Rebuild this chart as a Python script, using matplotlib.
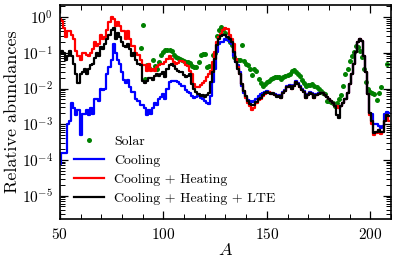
import numpy as np
import matplotlib
matplotlib.use("Agg")
import matplotlib.pyplot as plt
from matplotlib.ticker import MultipleLocator, LogLocator, NullFormatter

plt.rcParams['font.family'] = 'serif'
plt.rcParams['font.serif'] = ['cmr10']
plt.rcParams['mathtext.fontset'] = 'cm'
plt.rcParams['axes.formatter.use_mathtext'] = True
plt.rcParams['axes.unicode_minus'] = False

# mass numbers 50..209
mass = np.arange(50, 210)

# log10 of relative abundances
cool_log = [
    -4.1, -3.8, -3.8, -3.8, -3.0, -2.9, -2.4, -2.55, -2.75, -2.6,
    -3.3, -2.7, -2.7, -2.6, -2.75, -2.55, -2.7, -2.3, -2.3, -2.35,
    -2.0, -2.05, -2.0, -1.6, -1.4, -1.2, -0.75, -1.0, -1.2, -1.3,
    -1.55, -1.75, -1.85, -1.75, -1.95, -2.1, -2.1, -2.3, -2.35, -2.45,
    -2.45, -2.55, -2.75, -2.6, -2.7, -2.55, -2.4, -2.45, -2.3, -2.25,
    -2.15,
    -2.3, -2.02, -1.83, -1.78, -1.78, -1.78, -1.81, -1.88, -1.93, -1.93,
    -2.04, -2.1, -2.12, -2.21, -2.26, -2.23, -2.21, -2.26, -2.29, -2.35,
    -2.4, -2.42, -2.21, -1.83, -1.45, -0.98, -0.75, -0.7, -0.7, -0.62,
    -0.65, -0.7, -0.75, -1.08, -1.27, -1.34, -1.55, -1.93, -2.12, -2.23,
    -2.32, -2.35, -2.38, -2.35, -2.29, -2.21, -2.16, -2.13, -2.1, -2.07,
    -2.1, -2.13, -2.16, -2.16, -2.19,
    -2.18, -2.23, -2.1, -2.04, -1.94, -1.9, -1.97, -1.9, -1.78, -1.85,
    -1.94, -2.01, -2.07, -2.23, -2.16, -2.1, -2.13, -2.23, -2.16, -2.13,
    -2.12, -2.13, -2.19, -2.23, -2.29, -2.35, -2.4, -2.49, -2.5, -2.55,
    -2.49, -2.4, -2.29, -2.12, -1.88, -1.6, -1.31, -0.98, -0.7, -0.62,
    -0.68, -1.08, -1.55, -2.16, -2.68, -2.7, -3.0, -3.0, -3.05, -3.1,
    -3.05, -2.7, -2.65, -2.68,
]

heat_log = [
    -0.05, -0.1, -0.3, -0.55, -0.4, -0.4, -0.5, -0.6, -0.95, -1.1,
    -1.2, -1.0, -1.0, -1.05, -1.1, -1.0, -0.9, -0.7, -0.8, -0.75,
    -0.5, -0.6, -0.55, -0.35, -0.15, 0.0, -0.05, -0.25, -0.15, -0.25,
    -0.4, -0.4, -0.6, -0.4, -0.6, -0.8, -0.8, -1.0, -1.05, -1.2,
    -1.35, -1.35, -1.5, -1.3, -1.5, -1.45, -1.5, -1.4, -1.35, -1.3,
    -1.3,
    -1.27, -1.17, -1.08, -1.17, -1.27, -1.31, -1.28, -1.22, -1.22, -1.27,
    -1.34, -1.38, -1.5, -1.6, -1.88, -1.97, -1.95, -1.91, -1.85, -1.78,
    -1.69, -1.6, -1.5, -1.27, -0.98, -0.7, -0.56, -0.46, -0.37, -0.3,
    -0.32, -0.51, -0.6, -0.75, -1.17, -1.41, -1.6, -1.88, -2.07, -2.26,
    -2.4, -2.49, -2.59, -2.54, -2.4, -2.33, -2.29, -2.21, -2.16, -2.12,
    -2.1, -2.13, -2.16, -2.19, -2.21,
    -2.21, -2.26, -2.13, -2.07, -1.97, -1.93, -2.0, -1.93, -1.81, -1.88,
    -1.97, -2.04, -2.1, -2.26, -2.19, -2.13, -2.16, -2.26, -2.19, -2.16,
    -2.12, -2.13, -2.19, -2.23, -2.29, -2.35, -2.4, -2.49, -2.5, -2.55,
    -2.49, -2.4, -2.29, -2.12, -1.88, -1.6, -1.31, -0.98, -0.7, -0.6,
    -0.66, -1.08, -1.55, -2.16, -2.75, -3.0, -3.3, -3.25, -3.15, -3.28,
    -3.21, -2.92, -2.73, -2.9,
]

lte_log = [
    -1.0, -0.95, -1.0, -1.2, -1.1, -0.95, -1.1, -1.3, -1.6, -1.85,
    -1.6, -1.55, -1.45, -1.6, -1.45, -1.35, -1.3, -1.15, -1.0, -1.1,
    -0.85, -0.9, -0.75, -0.6, -0.5, -0.35, -0.3, -0.6, -0.45, -0.55,
    -0.7, -0.8, -0.85, -0.75, -0.9, -1.1, -1.0, -1.2, -1.3, -1.35,
    -1.8, -1.85, -1.8, -1.7, -1.7, -1.75, -1.65, -1.6, -1.65, -1.6,
    -1.55,
    -1.69, -1.45, -1.34, -1.31, -1.38, -1.44, -1.5, -1.53, -1.55, -1.62,
    -1.69, -1.64, -1.6, -1.88, -2.02, -2.1, -2.16, -2.21, -2.19, -2.23,
    -2.17, -2.13, -1.83, -1.55, -1.17, -0.79, -0.6, -0.53, -0.49, -0.51,
    -0.57, -0.6, -0.7, -0.98, -1.27, -1.45, -1.6, -1.88, -2.07, -2.21,
    -2.35, -2.42, -2.47, -2.45, -2.38, -2.3, -2.26, -2.19, -2.13, -2.1,
    -2.13, -2.16, -2.13, -2.19, -2.23,
    -2.21, -2.26, -2.13, -2.07, -1.97, -1.93, -2.0, -1.93, -1.81, -1.88,
    -1.97, -2.04, -2.1, -2.26, -2.19, -2.13, -2.16, -2.26, -2.19, -2.16,
    -2.12, -2.13, -2.19, -2.23, -2.29, -2.35, -2.4, -2.49, -2.73, -2.82,
    -2.49, -2.4, -2.29, -2.12, -1.88, -1.6, -1.31, -0.98, -0.7, -0.62,
    -0.68, -1.08, -1.55, -2.16, -2.68, -2.92, -3.25, -3.21, -3.15, -3.23,
    -3.21, -2.92, -2.73, -2.78,
]

solar_A = [
    89, 90, 91, 92, 93, 95, 96, 97, 98, 99, 100, 101, 102, 103, 104, 105,
    106, 107, 108, 109, 110, 111, 112, 113, 114, 115, 116, 117, 118, 119,
    120, 121, 122, 124, 125, 126, 127, 128, 129, 130, 131, 132, 133, 134,
    136, 137, 138, 139, 140, 141, 142, 143, 144, 145, 146, 147, 148, 149,
    150, 151, 152, 153, 154, 155, 156, 157, 158, 159, 160, 161, 162, 163,
    164, 165, 166, 167, 168, 169, 170, 171, 172, 173, 174, 175, 176, 177,
    178, 179, 180, 181, 182, 183, 184, 185, 186, 187, 188, 189, 190, 191,
    192, 193, 194, 195, 196, 197, 198, 199, 200, 201, 202, 203, 204, 205,
    208,
]
solar_log = [
    -0.87, -0.21, -1.72, -1.34, -1.42, -1.19, -1.38, -1.44, -1.25, -1.06,
    -0.98, -0.93, -0.91, -0.92, -0.95, -1.05, -1.12, -1.14, -1.17, -1.2,
    -1.22, -1.25, -1.27, -1.28, -1.38, -1.4, -1.41, -1.27, -1.06, -1.04,
    -1.03, -1.41, -1.38, -1.05, -1.0, -0.53, -0.35, -0.27, -0.34, -0.45,
    -0.6, -0.7, -0.77, -1.12, -1.19, -1.2, -0.77, -1.22, -1.3, -1.35,
    -1.45, -1.62, -1.45, -1.5, -1.72, -1.85, -1.93, -1.88, -1.82, -1.78,
    -1.72, -1.7, -1.69, -1.69, -1.69, -1.72, -1.68, -1.64, -1.62, -1.6,
    -1.5, -1.47, -1.55, -1.6, -1.66, -1.76, -1.85, -1.93, -1.91, -1.9,
    -1.88, -1.93, -1.97, -2.0, -2.07, -2.12, -2.16, -2.35, -2.35, -2.38,
    -2.4, -2.49, -2.4, -2.3, -2.19, -1.93, -1.6, -1.44, -1.22, -1.08,
    -0.98, -0.81, -0.84, -0.96, -1.12, -1.45, -1.83, -2.02, -2.1, -2.12,
    -2.16, -2.32, -2.12, -1.96, -1.31,
]

fig = plt.figure(figsize=(3.99, 2.59), dpi=100)
ax = fig.add_axes([0.150, 0.154, 0.830, 0.827])

ax.plot(solar_A, 10.0 ** np.array(solar_log), 'o', color='green', ms=3.6,
        mec='none', label='Solar', zorder=1)
ax.plot(mass, 10.0 ** np.array(cool_log), color='blue', lw=1.6,
        drawstyle='steps-mid', label='Cooling')
ax.plot(mass, 10.0 ** np.array(heat_log), color='red', lw=1.6,
        drawstyle='steps-mid', label='Cooling + Heating')
ax.plot(mass, 10.0 ** np.array(lte_log), color='black', lw=1.6,
        drawstyle='steps-mid', label='Cooling + Heating + LTE')

ax.set_yscale('log')
ax.set_xlim(50, 210)
ax.set_ylim(2.2e-6, 2.2)
ax.xaxis.set_major_locator(MultipleLocator(50))
ax.xaxis.set_minor_locator(MultipleLocator(10))
ax.yaxis.set_major_locator(LogLocator(base=10, numticks=20))
ax.yaxis.set_minor_locator(LogLocator(base=10, subs=np.arange(2, 10), numticks=20))
ax.yaxis.set_minor_formatter(NullFormatter())
ax.tick_params(which='both', direction='in', top=True, right=True, labelsize=11)
ax.tick_params(axis='x', which='major', pad=6)
ax.tick_params(axis='y', which='major', pad=5)
ax.tick_params(which='major', length=6, width=0.9)
ax.tick_params(which='minor', length=3.5, width=0.7)
for s in ax.spines.values():
    s.set_linewidth(1.2)

ax.set_xlabel('$A$', fontsize=13, labelpad=0)
ax.set_ylabel('Relative abundances', fontsize=13, labelpad=1)

ax.legend(loc='lower left', bbox_to_anchor=(0.0, 0.0), frameon=False,
          fontsize=10, handlelength=2.2, handletextpad=0.7,
          labelspacing=0.45, borderaxespad=0.6)

fig.savefig('out.png', dpi=100)
